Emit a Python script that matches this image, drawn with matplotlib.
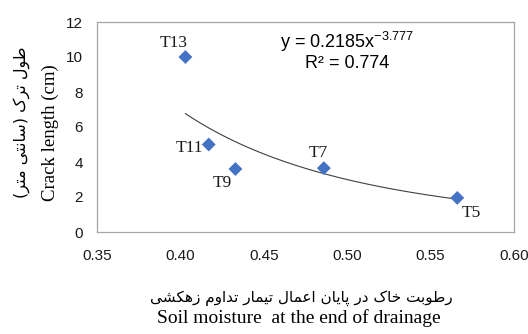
import numpy as np
import matplotlib
matplotlib.use("Agg")
import matplotlib.pyplot as plt

# -----------------------------
# Data
# -----------------------------
moisture = [0.403, 0.417, 0.433, 0.486, 0.566]
crack_len = [10.0, 5.0, 3.6, 3.65, 1.95]
treatments = ["T13", "T11", "T9", "T7", "T5"]
# label offsets (pixels) relative to each point
label_offsets = [(-12, 14), (-6, -3), (-13, -14), (-6, 15), (14, -15)]
label_ha = ["center", "right", "center", "center", "center"]

# power trendline as printed on the chart
trend_a = 0.2185
trend_b = -3.777
trend_r2 = 0.774

x_ticks = [0.35, 0.40, 0.45, 0.50, 0.55, 0.60]
y_ticks = [0, 2, 4, 6, 8, 10, 12]

ylabel_fa = "طول ترک (سانتی متر)"
ylabel_en = "Crack length (cm)"
xlabel_fa = "رطوبت خاک در پایان اعمال تیمار تداوم زهکشی"
xlabel_en = "Soil moisture  at the end of drainage"


# -----------------------------
# Minimal Persian shaping (matplotlib has no RTL/joining support)
# forms: isolated, final, initial, medial
# -----------------------------
FORMS = {
    "ا": ("\uFE8D", "\uFE8E", None, None),
    "ب": ("\uFE8F", "\uFE90", "\uFE91", "\uFE92"),
    "پ": ("\uFB56", "\uFB57", "\uFB58", "\uFB59"),
    "ت": ("\uFE95", "\uFE96", "\uFE97", "\uFE98"),
    "خ": ("\uFEA5", "\uFEA6", "\uFEA7", "\uFEA8"),
    "د": ("\uFEA9", "\uFEAA", None, None),
    "ر": ("\uFEAD", "\uFEAE", None, None),
    "ز": ("\uFEAF", "\uFEB0", None, None),
    "س": ("\uFEB1", "\uFEB2", "\uFEB3", "\uFEB4"),
    "ش": ("\uFEB5", "\uFEB6", "\uFEB7", "\uFEB8"),
    "ط": ("\uFEC1", "\uFEC2", "\uFEC3", "\uFEC4"),
    "ع": ("\uFEC9", "\uFECA", "\uFECB", "\uFECC"),
    "ک": ("\uFB8E", "\uFB8F", "\uFB90", "\uFB91"),
    "ل": ("\uFEDD", "\uFEDE", "\uFEDF", "\uFEE0"),
    "م": ("\uFEE1", "\uFEE2", "\uFEE3", "\uFEE4"),
    "ن": ("\uFEE5", "\uFEE6", "\uFEE7", "\uFEE8"),
    "ه": ("\uFEE9", "\uFEEA", "\uFEEB", "\uFEEC"),
    "و": ("\uFEED", "\uFEEE", None, None),
    "ی": ("\uFBFC", "\uFBFD", "\uFBFE", "\uFBFF"),
}


def shape_fa(text):
    out = []
    for i, ch in enumerate(text):
        if ch not in FORMS:
            out.append(ch)
            continue
        prev = text[i - 1] if i > 0 else ""
        nxt = text[i + 1] if i + 1 < len(text) else ""
        join_prev = prev in FORMS and FORMS[prev][2] is not None
        join_next = nxt in FORMS and FORMS[ch][2] is not None
        iso, fin, ini, med = FORMS[ch]
        if join_prev and join_next:
            out.append(med)
        elif join_prev:
            out.append(fin)
        elif join_next:
            out.append(ini)
        else:
            out.append(iso)
    vis = "".join(reversed(out))
    return vis.translate(str.maketrans("()", ")("))


plt.rcParams["font.family"] = ["Liberation Sans", "DejaVu Sans"]
serif = ["Liberation Serif", "DejaVu Sans"]
fa_font = ["DejaVu Sans"]

fig = plt.figure(figsize=(5.28, 3.34), dpi=100)
ax = fig.add_axes([97 / 528, 1 - 232 / 334, 417 / 528, 210 / 334])

ax.scatter(moisture, crack_len, marker="D", s=50, color="#4472C4",
           edgecolors="none", zorder=3)

xs = np.linspace(min(moisture), max(moisture), 200)
ax.plot(xs, trend_a * xs ** trend_b, color="#404040", lw=0.8, zorder=2)

for x, y, t, off, ha in zip(moisture, crack_len, treatments, label_offsets, label_ha):
    ax.annotate(t, (x, y), xytext=off, textcoords="offset pixels",
                ha=ha, va="center", fontsize=12.5, family=serif, color="#1a1a1a")

ax.text(0.6, 0.906, r"y = 0.2185x$^{\mathregular{-3.777}}$",
        transform=ax.transAxes, ha="center", va="center", fontsize=13)
ax.text(0.6, 0.80, "R² = %.3f" % trend_r2, transform=ax.transAxes,
        ha="center", va="center", fontsize=13)

ax.set_xlim(0.35, 0.60)
ax.set_ylim(0, 12)
ax.set_xticks(x_ticks)
ax.set_xticklabels(["%.2f" % v for v in x_ticks])
ax.set_yticks(y_ticks)
ax.tick_params(length=0, labelsize=11, colors="#1a1a1a")
ax.tick_params(axis="x", pad=12)
ax.tick_params(axis="y", pad=10)
for s in ax.spines.values():
    s.set_color("#A6A6A6")
    s.set_linewidth(0.9)

fig.text(50 / 528, 1 - 133 / 334, ylabel_en, rotation=90, ha="center",
         va="center", fontsize=13.5, family=serif)
fig.text(22 / 528, 1 - 122 / 334, shape_fa(ylabel_fa), rotation=90,
         ha="center", va="center", fontsize=11.5, family=fa_font)
fig.text(301 / 528, 1 - 298 / 334, shape_fa(xlabel_fa), ha="center",
         va="center", fontsize=11, family=fa_font)
fig.text(299 / 528, 1 - 318 / 334, xlabel_en, ha="center", va="center",
         fontsize=14, family=serif)

fig.savefig("out.png", dpi=100)
